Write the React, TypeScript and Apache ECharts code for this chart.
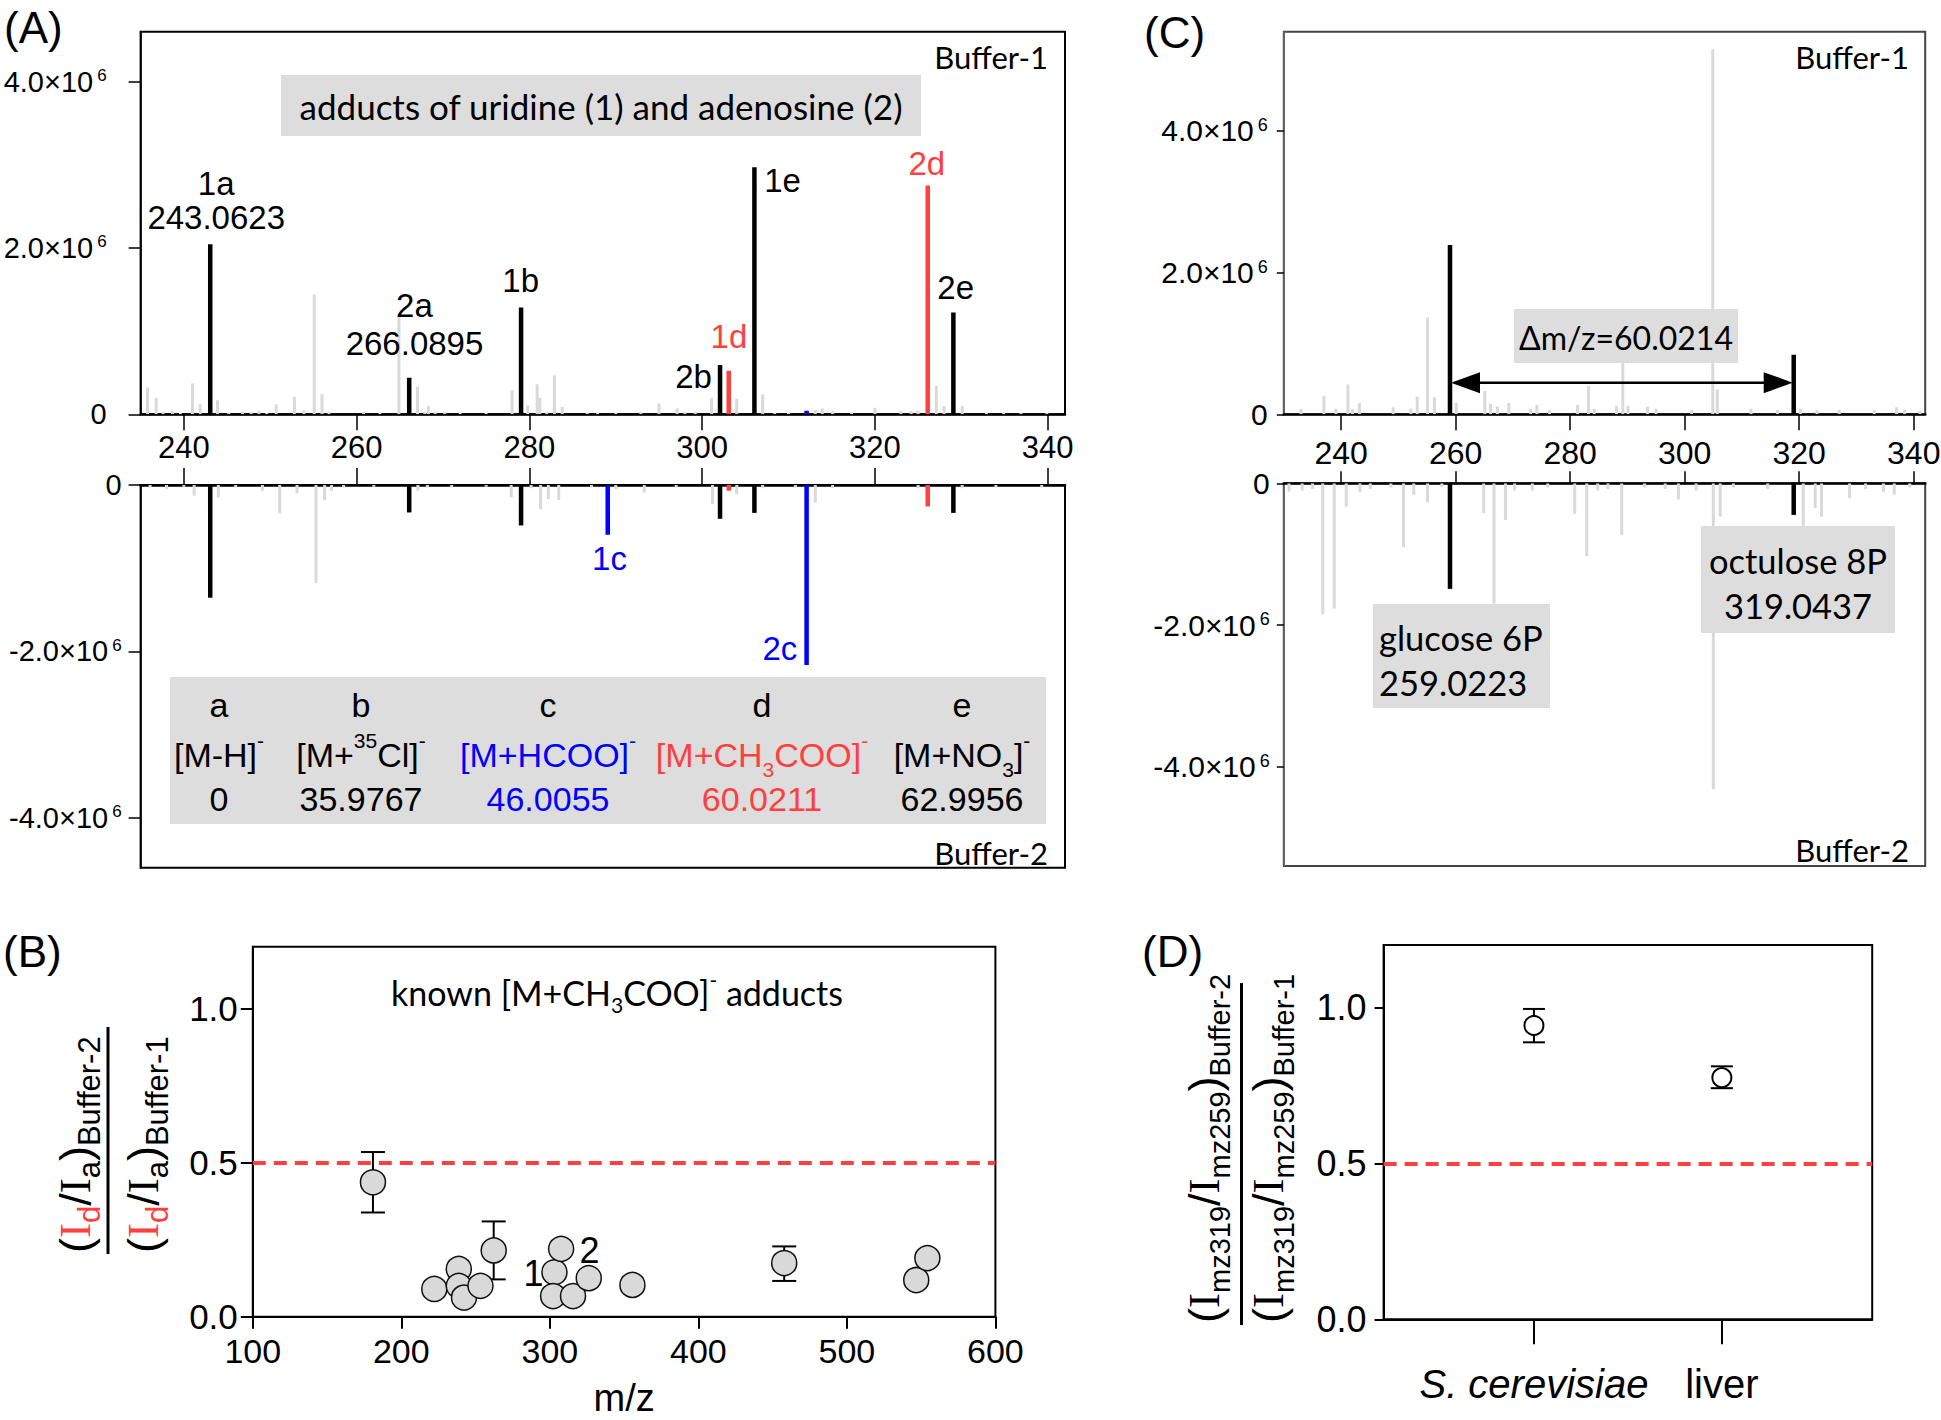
import React, { useEffect, useRef } from 'react';
import * as echarts from 'echarts';

const AR = 'Liberation Sans';
const SERIF = 'Liberation Serif';
const CAL = 'Lato';
const RED = '#ff4040';
const BLUE = '#0000ff';
const GREY = '#d9d9d9';
const BOXGREY = '#dddddd';

// ---------------- Panel A : uridine (1) / adenosine (2) adducts (intensity ×10^6) ----------------
const aTicks = [240, 260, 280, 300, 320, 340];
const aTopGreyMz = [235.8, 236.8, 237.6, 238.7, 239.6, 241.0, 241.9, 243.9, 245.2, 246.8, 247.8, 248.7, 249.6, 250.7, 252.8, 253.9, 255.1, 256.0, 256.8, 260.8, 262.7, 264.9, 267.05, 267.9, 268.3, 269.1, 270.2, 272.0, 275.0, 278.0, 279.8, 280.9, 281.2, 282.0, 282.9, 283.8, 286.7, 287.9, 290.0, 292.9, 295.0, 297.1, 298.0, 299.2, 301.1, 304.0, 307.0, 308.4, 310.0, 313.1, 313.9, 315.1, 317.3, 320.0, 323.0, 324.2, 325.0, 327.1, 328.0, 330.1, 332.9, 334.9, 336.9, 339.9];
const aTopGreyInt = [0.32, 0.2, 0.03, 0.04, 0.02, 0.37, 0.12, 0.17, 0.02, 0.03, 0.03, 0.04, 0.02, 0.12, 0.21, 0.05, 1.44, 0.24, 0.03, 0.03, 0.02, 1.18, 0.33, 0.03, 0.1, 0.03, 0.03, 0.02, 0.02, 0.29, 0.11, 0.36, 0.2, 0.03, 0.47, 0.09, 0.02, 0.02, 0.02, 0.03, 0.13, 0.07, 0.03, 0.03, 0.2, 0.19, 0.24, 0.02, 0.02, 0.05, 0.07, 0.04, 0.02, 0.08, 0.04, 0.04, 0.04, 0.34, 0.1, 0.1, 0.02, 0.02, 0.02, 0.02];
const aTopBlackMz = [243.06, 266.09, 279.04, 302.07, 306.05, 329.08];
const aTopBlackInt = [2.044, 0.44, 1.284, 0.592, 2.97, 1.224];
const aTopRedMz = [303.08, 326.11];
const aTopRedInt = [0.524, 2.75];
const aTopBlueMz = [312.09];
const aTopBlueInt = [0.044];

const aBotGreyMz = [236.1, 238.0, 240.0, 241.2, 244.0, 246.0, 249.1, 251.1, 253.1, 255.3, 256.3, 257.1, 258.5, 262.0, 267.1, 268.2, 271.0, 275.0, 277.9, 280.2, 281.3, 282.2, 283.4, 287.2, 290.0, 293.3, 297.0, 301.2, 304.0, 307.0, 310.8, 313.1, 315.1, 325.0, 330.1, 334.0, 339.3];
const aBotGreyInt = [-0.03, -0.05, -0.02, -0.13, -0.15, -0.03, -0.07, -0.34, -0.1, -1.18, -0.18, -0.07, -0.03, -0.02, -0.07, -0.03, -0.03, -0.02, -0.15, -0.04, -0.29, -0.17, -0.18, -0.03, -0.05, -0.09, -0.03, -0.23, -0.11, -0.04, -0.03, -0.21, -0.04, -0.04, -0.04, -0.03, -0.03];
const aBotBlackMz = [243.06, 266.09, 279.04, 302.07, 306.05, 329.08];
const aBotBlackInt = [-1.355, -0.33, -0.486, -0.406, -0.335, -0.335];
const aBotRedMz = [303.08, 326.11];
const aBotRedInt = [-0.068, -0.259];
const aBotBlueMz = [289.07, 312.09];
const aBotBlueInt = [-0.598, -2.163];

const aTopLabelText = ['1a\n243.0623', '2a\n266.0895', '1b', '2b', '1d', '1e', '2d', '2e'];
const aTopLabelMz = [243.75, 266.7, 279.0, 299.0, 303.1, 309.3, 326.0, 329.35];
const aTopLabelY = [2.57, 1.075, 1.61, 0.45, 0.93, 2.81, 3.02, 1.53];
const aTopLabelColor = ['#000', '#000', '#000', '#000', RED, '#000', RED, '#000'];
const aTopLabelLineH = [34, 38, 34, 34, 34, 34, 34, 34];
const aBotLabelText = ['1c', '2c'];
const aBotLabelMz = [289.27, 309.0];
const aBotLabelY = [-0.88, -1.97];

const tableLetters = ['a', 'b', 'c', 'd', 'e'];
const tableIons = ['{m|[M-H]}{p|-}', '{m|[M+}{p|35}{m|Cl]}{p|-}', '{m|[M+HCOO]}{p|-}', '{m|[M+CH}{b|3}{m|COO]}{p|-}', '{m|[M+NO}{b|3}{m|]}{p|-}'];
const tableShifts = ['0', '35.9767', '46.0055', '60.0211', '62.9956'];
const tableColors = ['#000', '#000', BLUE, RED, '#000'];

// ---------------- Panel C : glucose 6P / octulose 8P ----------------
const cTicks = [240, 260, 280, 300, 320, 340];
const cTopGreyMz = [233.0, 237.0, 239.1, 241.2, 242.0, 243.2, 249.1, 252.2, 253.3, 255.1, 256.3, 260.1, 265.1, 266.1, 267.3, 269.3, 273.1, 274.2, 276.4, 281.3, 283.2, 284.2, 288.1, 289.2, 290.1, 293.5, 295.0, 301.2, 304.9, 305.7, 311.6, 316.2, 320.2, 323.1, 327.0, 333.1, 337.0, 338.4, 341.1];
const cTopGreyInt = [0.08, 0.26, 0.08, 0.42, 0.07, 0.16, 0.1, 0.08, 0.25, 1.365, 0.24, 0.16, 0.33, 0.15, 0.11, 0.16, 0.08, 0.13, 0.06, 0.13, 0.4, 0.08, 0.12, 0.9, 0.12, 0.11, 0.08, 0.06, 5.15, 0.35, 0.08, 0.06, 0.08, 0.06, 0.06, 0.06, 0.1, 0.06, 0.05];
const cTopBlackMz = [259.02, 319.04];
const cTopBlackInt = [2.39, 0.84];
const cBotGreyMz = [230.9, 233.2, 235.0, 236.8, 238.8, 240.9, 243.3, 245.1, 248.7, 250.9, 252.7, 255.1, 257.6, 264.9, 266.7, 268.7, 270.3, 273.4, 276.1, 280.8, 282.9, 284.8, 286.6, 289.0, 293.0, 296.6, 298.9, 302.0, 305.0, 306.2, 308.5, 314.5, 320.7, 322.8, 323.9, 328.8, 331.6, 334.7, 336.6, 339.3];
const cBotGreyInt = [-0.12, -0.1, -0.08, -1.85, -1.77, -0.33, -0.12, -0.08, -0.06, -0.9, -0.16, -0.27, -0.05, -0.42, -1.7, -0.52, -0.1, -0.1, -0.06, -0.43, -1.03, -0.1, -0.08, -0.73, -0.06, -0.08, -0.23, -0.1, -4.32, -0.47, -0.06, -0.08, -0.6, -0.35, -0.47, -0.21, -0.08, -0.12, -0.16, -0.06];
const cBotBlackMz = [259.02, 319.04];
const cBotBlackInt = [-1.49, -0.446];
const cArrowMz = [259.02, 319.04];
const cArrowY = [0.447];

// ---------------- Panel B : known [M+CH3COO]- adducts ----------------
const bMz = [180.9, 222.2, 238.7, 238.7, 242.2, 253.3, 262.2, 303.1, 307.6, 302.2, 315.6, 326.2, 355.6, 457.8, 546.7, 554.2];
const bRatio = [0.436, 0.09, 0.155, 0.1, 0.062, 0.1, 0.215, 0.144, 0.22, 0.067, 0.067, 0.125, 0.103, 0.174, 0.119, 0.19];
const bErrMz = [180.9, 262.2, 457.8];
const bErrLow = [0.338, 0.121, 0.116];
const bErrHigh = [0.534, 0.309, 0.228];
const bLabelText = ['1', '2'];
const bLabelMz = [289.0, 326.7];
const bLabelY = [0.141, 0.215];
const ratioTicks = [0, 0.5, 1.0];
const threshold = 0.5;

// ---------------- Panel D ----------------
const dCategories = ['S. cerevisiae', 'liver'];
const dPos = [1, 2];
const dRatio = [0.942, 0.775];
const dLow = [0.888, 0.741];
const dHigh = [0.995, 0.811];

const sciFmt = (v: number) => {
  if (Math.abs(v) < 1e-9) return '{m|0}';
  return `{m|${v.toFixed(1)}×10}{s|6}`;
};
function sciRich(fs: number) {
  return {
    m: { fontFamily: AR, fontSize: fs, lineHeight: fs, verticalAlign: 'middle', color: '#000' },
    s: { fontFamily: AR, fontSize: Math.round(fs * 0.6), lineHeight: Math.round(fs * 0.6), verticalAlign: 'top', color: '#000', padding: [0, 0, 0, 4] },
  };
}

function stick(xi: number, yi: number, mz: number[], inten: number[], color: string, w: number, z: number) {
  return {
    type: 'custom', xAxisIndex: xi, yAxisIndex: yi, z, silent: true, clip: true,
    encode: { x: 0, y: 1 },
    data: mz.map((m, i) => [m, inten[i]]),
    renderItem: (params: any, api: any) => {
      const x = api.value(0);
      const v = api.value(1);
      const a = api.coord([x, 0]);
      const b = api.coord([x, v]);
      return {
        type: 'rect',
        shape: { x: a[0] - w / 2, y: Math.min(a[1], b[1]), width: w, height: Math.abs(b[1] - a[1]) },
        style: { fill: color },
      };
    },
  };
}

function textLayer(xi: number, yi: number, xs: number[], ys: number[], texts: string[], colors: string[], fontSize: number, lineHs?: number[]) {
  return {
    type: 'custom', xAxisIndex: xi, yAxisIndex: yi, z: 10, silent: true,
    encode: { x: 0, y: 1 },
    data: xs.map((x, i) => [x, ys[i]]),
    renderItem: (params: any, api: any) => {
      const p = api.coord([api.value(0), api.value(1)]);
      const i = params.dataIndex;
      return {
        type: 'text', x: p[0], y: p[1],
        style: { text: texts[i], fill: colors[i], fontSize, fontFamily: AR, align: 'center', verticalAlign: 'middle', lineHeight: lineHs ? lineHs[i] : fontSize },
      };
    },
  };
}

function errorBars(xi: number, yi: number, xs: number[], lo: number[], hi: number[], cap: number) {
  return {
    type: 'custom', xAxisIndex: xi, yAxisIndex: yi, z: 2, silent: true,
    encode: { x: 0, y: [1, 2] },
    data: xs.map((x, i) => [x, lo[i], hi[i]]),
    renderItem: (params: any, api: any) => {
      const x = api.value(0);
      const pl = api.coord([x, api.value(1)]);
      const ph = api.coord([x, api.value(2)]);
      const st = { stroke: '#000', lineWidth: 2 };
      return {
        type: 'group',
        children: [
          { type: 'line', shape: { x1: pl[0], y1: pl[1], x2: ph[0], y2: ph[1] }, style: st },
          { type: 'line', shape: { x1: pl[0] - cap, y1: pl[1], x2: pl[0] + cap, y2: pl[1] }, style: st },
          { type: 'line', shape: { x1: ph[0] - cap, y1: ph[1], x2: ph[0] + cap, y2: ph[1] }, style: st },
        ],
      };
    },
  };
}

function specX(gridIndex: number, min: number, max: number, position: string, ticks: number[], showLabel: boolean, tickLen: number, margin: number, fs: number) {
  return {
    type: 'value', gridIndex, min, max, position,
    axisLine: { show: true, onZero: false, lineStyle: { color: '#000', width: 2.5 } },
    axisTick: { show: true, length: tickLen, customValues: ticks, lineStyle: { color: '#000', width: 1.5 } },
    axisLabel: { show: showLabel, customValues: ticks, formatter: (v: number) => String(v), fontFamily: AR, fontSize: fs, color: '#000', margin },
    splitLine: { show: false },
  };
}

function specY(gridIndex: number, min: number, max: number, ticks: number[], margin: number, tickLen: number, color: string, fs: number) {
  return {
    type: 'value', gridIndex, min, max,
    axisLine: { show: true, onZero: false, lineStyle: { color, width: 1.5 } },
    axisTick: { show: true, length: tickLen, customValues: ticks, lineStyle: { color: '#000', width: 1.5 } },
    axisLabel: { show: true, customValues: ticks, formatter: sciFmt, margin, rich: sciRich(fs) },
    splitLine: { show: false },
  };
}

function ratioY(gridIndex: number, margin: number, fontSize: number, tickLen: number) {
  return {
    type: 'value', gridIndex, min: 0, max: 1.2,
    axisLine: { show: true, lineStyle: { color: '#000', width: 2 } },
    axisTick: { show: true, length: tickLen, customValues: ratioTicks, lineStyle: { color: '#000', width: 2 } },
    axisLabel: { show: true, customValues: ratioTicks, formatter: (v: number) => v.toFixed(1), fontFamily: AR, fontSize, color: '#000', margin },
    splitLine: { show: false },
  };
}

const threshLine = {
  silent: true, symbol: ['none', 'none'], label: { show: false },
  lineStyle: { color: RED, width: 4, type: [13, 8] },
  data: [{ yAxis: threshold }],
};

function txt(text: string, x: number, y: number, fontSize: number, family: string, align = 'left', fill = '#000', extra: any = {}) {
  return { type: 'text', x, y, z: 100, silent: true, style: { text, x: 0, y: 0, fontSize, fontFamily: family, fill, align, verticalAlign: 'middle', ...extra } };
}
function box(x: number, y: number, w: number, h: number) {
  return { type: 'rect', z: 90, silent: true, shape: { x, y, width: w, height: h }, style: { fill: BOXGREY } };
}

function ionRich(color: string) {
  return {
    m: { fontFamily: AR, fontSize: 34, lineHeight: 50, verticalAlign: 'middle', fill: color },
    p: { fontFamily: AR, fontSize: 21, lineHeight: 16, verticalAlign: 'top', fill: color },
    b: { fontFamily: AR, fontSize: 21, lineHeight: 42, verticalAlign: 'bottom', fill: color },
  };
}

function fracRich(subSize: number) {
  const L = 60;
  return {
    p: { fontFamily: AR, fontSize: 45, lineHeight: L, verticalAlign: 'middle', fill: '#000' },
    i: { fontFamily: SERIF, fontSize: 45, lineHeight: L, verticalAlign: 'middle', fill: '#000' },
    ir: { fontFamily: SERIF, fontSize: 45, lineHeight: L, verticalAlign: 'middle', fill: RED },
    s: { fontFamily: AR, fontSize: subSize, lineHeight: subSize, verticalAlign: 'bottom', fill: '#000' },
    sr: { fontFamily: AR, fontSize: subSize, lineHeight: subSize, verticalAlign: 'bottom', fill: RED },
  };
}

function buildOption() {
  const tableCols = [219, 361, 548, 762, 962];
  const graphic: any[] = [];
  // panel letters
  graphic.push(txt('(A)', 4, 27, 44, AR));
  graphic.push(txt('(C)', 1144, 32, 44, AR));
  graphic.push(txt('(B)', 3, 951, 44, AR));
  graphic.push(txt('(D)', 1142, 951, 44, AR));
  // buffer tags
  graphic.push(txt('Buffer-1', 1048, 57, 31, CAL, 'right'));
  graphic.push(txt('Buffer-2', 1048, 853, 31, CAL, 'right'));
  graphic.push(txt('Buffer-1', 1909, 57, 31, CAL, 'right'));
  graphic.push(txt('Buffer-2', 1909, 850, 31, CAL, 'right'));
  // panel A title box
  graphic.push(box(281, 75, 640, 61));
  graphic.push(txt('adducts of uridine (1) and adenosine (2)', 601, 106, 35, CAL, 'center'));
  // panel A table
  graphic.push(box(170, 677, 876, 147));
  tableCols.forEach((cx, i) => {
    graphic.push(txt(tableLetters[i], cx, 705, 34, AR, 'center', '#000'));
    graphic.push({ type: 'text', x: cx, y: 755, z: 100, silent: true, style: { text: tableIons[i], rich: ionRich(tableColors[i]), align: 'center', verticalAlign: 'middle', fill: tableColors[i] } });
    graphic.push(txt(tableShifts[i], cx, 799, 34, AR, 'center', tableColors[i]));
  });
  // panel C labels
  graphic.push(box(1514, 309, 224, 54));
  graphic.push(txt('Δm/z=60.0214', 1626, 337, 32, CAL, 'center'));
  graphic.push(box(1373, 604, 177, 104));
  graphic.push(txt('glucose 6P', 1379, 637, 34.5, CAL, 'left'));
  graphic.push(txt('259.0223', 1379, 682, 34.5, CAL, 'left'));
  graphic.push(box(1701, 526, 194, 107));
  graphic.push(txt('octulose 8P', 1798, 560, 34.5, CAL, 'center'));
  graphic.push(txt('319.0437', 1798, 605, 34.5, CAL, 'center'));
  // panel B title
  graphic.push({ type: 'text', x: 617, y: 992, z: 100, silent: true, style: { text: '{m|known [M+CH}{b|3}{m|COO]}{p|-}{m| adducts}', align: 'center', verticalAlign: 'middle', rich: {
    m: { fontFamily: CAL, fontSize: 34, lineHeight: 46, verticalAlign: 'middle', fill: '#000' },
    p: { fontFamily: CAL, fontSize: 21, lineHeight: 28, verticalAlign: 'top', fill: '#000' },
    b: { fontFamily: CAL, fontSize: 21, lineHeight: 28, verticalAlign: 'bottom', fill: '#000' },
  } } });
  // fraction axis titles
  graphic.push({ type: 'text', x: 75, y: 1253, rotation: Math.PI / 2, z: 100, silent: true, style: { text: '{p|(}{ir|I}{sr|d}{p|/}{i|I}{s|a}{p|)}{s|Buffer-2}', rich: fracRich(31), align: 'left', verticalAlign: 'middle' } });
  graphic.push({ type: 'text', x: 143, y: 1253, rotation: Math.PI / 2, z: 100, silent: true, style: { text: '{p|(}{ir|I}{sr|d}{p|/}{i|I}{s|a}{p|)}{s|Buffer-1}', rich: fracRich(31), align: 'left', verticalAlign: 'middle' } });
  graphic.push({ type: 'line', z: 100, silent: true, shape: { x1: 108, y1: 1027, x2: 108, y2: 1254 }, style: { stroke: '#000', lineWidth: 3 } });
  graphic.push({ type: 'text', x: 1204, y: 1323, rotation: Math.PI / 2, z: 100, silent: true, style: { text: '{p|(}{i|I}{s|mz319}{p|/}{i|I}{s|mz259}{p|)}{s|Buffer-2}', rich: fracRich(29), align: 'left', verticalAlign: 'middle' } });
  graphic.push({ type: 'text', x: 1268, y: 1323, rotation: Math.PI / 2, z: 100, silent: true, style: { text: '{p|(}{i|I}{s|mz319}{p|/}{i|I}{s|mz259}{p|)}{s|Buffer-1}', rich: fracRich(29), align: 'left', verticalAlign: 'middle' } });
  graphic.push({ type: 'line', z: 100, silent: true, shape: { x1: 1241.5, y1: 983, x2: 1241.5, y2: 1325 }, style: { stroke: '#000', lineWidth: 3 } });

  const arrowSeries = {
    type: 'custom', xAxisIndex: 2, yAxisIndex: 2, z: 6, silent: true,
    encode: { x: [0, 1], y: 2 },
    data: [[cArrowMz[0], cArrowMz[1], cArrowY[0]]],
    renderItem: (params: any, api: any) => {
      const a = api.coord([api.value(0), api.value(2)]);
      const b = api.coord([api.value(1), api.value(2)]);
      const hl = 30, hw = 10.5;
      return {
        type: 'group',
        children: [
          { type: 'line', shape: { x1: a[0] + hl - 2, y1: a[1], x2: b[0] - hl + 2, y2: b[1] }, style: { stroke: '#000', lineWidth: 2.5 } },
          { type: 'polygon', shape: { points: [[a[0] + 1, a[1]], [a[0] + hl, a[1] - hw], [a[0] + hl, a[1] + hw]] }, style: { fill: '#000' } },
          { type: 'polygon', shape: { points: [[b[0] - 1, b[1]], [b[0] - hl, b[1] - hw], [b[0] - hl, b[1] + hw]] }, style: { fill: '#000' } },
        ],
      };
    },
  };

  const g = (left: number, top: number, width: number, height: number, borderColor: string) =>
    ({ left, top, width, height, show: true, borderColor, borderWidth: 2, containLabel: false, outerBoundsMode: 'none' });

  return {
    animation: false,
    backgroundColor: '#ffffff',
    grid: [
      g(140.6, 31.7, 924.4, 382.6, '#000'),
      g(140.6, 485, 924.4, 382.7, '#000'),
      g(1283.8, 31.7, 641.4, 382.6, '#444'),
      g(1283.8, 483.3, 641.4, 382.7, '#444'),
      g(252.8, 946.7, 742.6, 370, '#000'),
      g(1383.6, 945, 488.6, 374.3, '#000'),
    ],
    xAxis: [
      specX(0, 235, 342, 'bottom', aTicks, false, 16, 20, 31),
      specX(1, 235, 342, 'top', aTicks, true, 17, 22, 31),
      specX(2, 230, 342, 'bottom', cTicks, false, 16, 20, 32),
      specX(3, 230, 342, 'top', cTicks, true, 12, 14, 32),
      {
        type: 'value', gridIndex: 4, min: 100, max: 600, interval: 100,
        axisLine: { show: true, onZero: false, lineStyle: { color: '#000', width: 2 } },
        axisTick: { show: true, length: 12, lineStyle: { color: '#000', width: 2 } },
        axisLabel: { fontFamily: AR, fontSize: 34, color: '#000', margin: 17 },
        splitLine: { show: false },
        name: 'm/z', nameLocation: 'middle', nameGap: 62,
        nameTextStyle: { fontFamily: AR, fontSize: 38, color: '#000' },
      },
      {
        type: 'value', gridIndex: 5, min: 0.2, max: 2.8,
        axisLine: { show: true, onZero: false, lineStyle: { color: '#000', width: 2 } },
        axisTick: { show: true, length: 25, customValues: dPos, lineStyle: { color: '#000', width: 2 } },
        axisLabel: {
          customValues: dPos, fontFamily: AR, fontSize: 40, color: '#000', margin: 45,
          formatter: (v: number) => {
            const name = dCategories[Math.round(v) - 1] || '';
            return name === 'S. cerevisiae' ? `{i|${name}}` : name;
          },
          rich: { i: { fontFamily: AR, fontSize: 40, fontStyle: 'italic', color: '#000' } },
        },
        splitLine: { show: false },
      },
    ],
    yAxis: [
      specY(0, 0, 4.6, [0, 2, 4], 34, 12, '#000', 29),
      specY(1, -4.6, 0, [-4, -2, 0], 19, 12, '#000', 29),
      specY(2, 0, 5.4, [0, 2, 4], 16, 7, '#666', 30),
      specY(3, -5.4, 0, [-4, -2, 0], 14, 7, '#666', 30),
      ratioY(4, 15, 35, 12),
      ratioY(5, 17, 36, 9),
    ],
    graphic,
    series: [
      stick(0, 0, aTopGreyMz, aTopGreyInt, GREY, 3, 1),
      stick(0, 0, aTopBlackMz, aTopBlackInt, '#000', 4.5, 3),
      stick(0, 0, aTopRedMz, aTopRedInt, RED, 4.5, 3),
      stick(0, 0, aTopBlueMz, aTopBlueInt, BLUE, 4.5, 3),
      stick(1, 1, aBotGreyMz, aBotGreyInt, GREY, 3, 1),
      stick(1, 1, aBotBlackMz, aBotBlackInt, '#000', 4.5, 3),
      stick(1, 1, aBotRedMz, aBotRedInt, RED, 4.5, 3),
      stick(1, 1, aBotBlueMz, aBotBlueInt, BLUE, 4.5, 3),
      textLayer(0, 0, aTopLabelMz, aTopLabelY, aTopLabelText, aTopLabelColor, 33, aTopLabelLineH),
      textLayer(1, 1, aBotLabelMz, aBotLabelY, aBotLabelText, [BLUE, BLUE], 33),
      stick(2, 2, cTopGreyMz, cTopGreyInt, GREY, 3, 1),
      stick(2, 2, cTopBlackMz, cTopBlackInt, '#000', 4.5, 3),
      stick(3, 3, cBotGreyMz, cBotGreyInt, GREY, 3, 1),
      stick(3, 3, cBotBlackMz, cBotBlackInt, '#000', 4.5, 3),
      arrowSeries,
      errorBars(4, 4, bErrMz, bErrLow, bErrHigh, 12),
      {
        type: 'scatter', xAxisIndex: 4, yAxisIndex: 4, z: 4, silent: true,
        symbol: 'circle', symbolSize: 25,
        itemStyle: { color: GREY, borderColor: '#111', borderWidth: 1.5, opacity: 1 },
        data: bMz.map((m, i) => [m, bRatio[i]]),
        markLine: threshLine,
      },
      textLayer(4, 4, bLabelMz, bLabelY, bLabelText, ['#000', '#000'], 36),
      errorBars(5, 5, dPos, dLow, dHigh, 11),
      {
        type: 'scatter', xAxisIndex: 5, yAxisIndex: 5, z: 4, silent: true,
        symbol: 'circle', symbolSize: 19,
        itemStyle: { color: '#fff', borderColor: '#000', borderWidth: 2, opacity: 1 },
        data: dPos.map((p, i) => [p, dRatio[i]]),
        markLine: threshLine,
      },
    ],
  };
}

export default function App() {
  const ref = useRef<HTMLDivElement>(null);
  useEffect(() => {
    document.body.style.margin = '0';
    if (!ref.current) return;
    const chart = echarts.init(ref.current, undefined, { renderer: 'svg' });
    chart.setOption(buildOption() as any);
    return () => chart.dispose();
  }, []);
  return <div ref={ref} style={{ width: 1941, height: 1420, background: '#fff' }} />;
}
